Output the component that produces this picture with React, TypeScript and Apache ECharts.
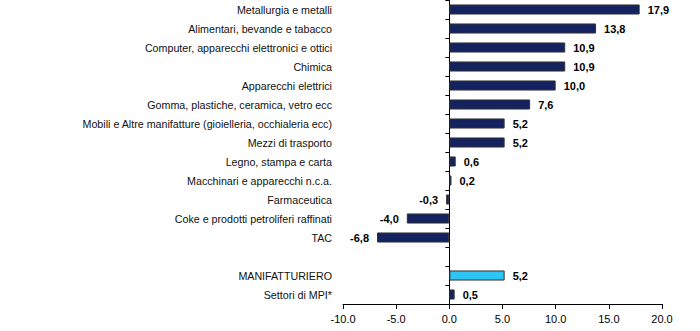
import React, { useEffect, useRef } from "react";
import * as echarts from "echarts";

const categories = [
  "Metallurgia e metalli",
  "Alimentari, bevande e tabacco",
  "Computer, apparecchi elettronici e ottici",
  "Chimica",
  "Apparecchi elettrici",
  "Gomma, plastiche, ceramica, vetro ecc",
  "Mobili e Altre manifatture (gioielleria, occhialeria ecc)",
  "Mezzi di trasporto",
  "Legno, stampa e carta",
  "Macchinari e apparecchi n.c.a.",
  "Farmaceutica",
  "Coke e prodotti petroliferi raffinati",
  "TAC",
  "",
  "MANIFATTURIERO",
  "Settori di MPI*",
];
const values: (number | null)[] = [17.9, 13.8, 10.9, 10.9, 10.0, 7.6, 5.2, 5.2, 0.6, 0.2, -0.3, -4.0, -6.8, null, 5.2, 0.5];
const highlight = "MANIFATTURIERO";
const xTicks = { min: -10, max: 20, interval: 5 };

const NAVY = "#14235f";
const CYAN = "#2ec4f5";
const FONT = "'Liberation Sans Narrow', 'Arial Narrow', 'Liberation Sans', Arial, sans-serif";

export default function App() {
  const ref = useRef<HTMLDivElement>(null);
  useEffect(() => {
    const chart = echarts.init(ref.current!, undefined, { renderer: "svg" });
    const data = values.map((v, i) =>
      v === null
        ? { value: null }
        : {
            value: v,
            itemStyle: { color: categories[i] === highlight ? CYAN : NAVY },
            label: { position: v < 0 ? "left" : "right" },
          }
    );
    chart.setOption({
      animation: false,
      grid: { left: 343, right: 38, top: -3, bottom: 27, containLabel: false },
      xAxis: {
        type: "value",
        min: xTicks.min,
        max: xTicks.max,
        interval: xTicks.interval,
        splitLine: { show: false },
        axisLine: { show: true, lineStyle: { color: "#000", width: 1 } },
        axisTick: { show: true, length: 5, lineStyle: { color: "#000" } },
        axisLabel: {
          color: "#000",
          fontFamily: FONT,
          fontSize: 11,
          margin: 9,
          formatter: (v: number) => v.toFixed(1),
        },
      },
      yAxis: [
        {
          type: "category",
          data: categories,
          inverse: true,
          axisLine: { show: true, onZero: true, lineStyle: { color: "#000", width: 1 } },
          axisTick: { show: true, length: 4, inside: false, lineStyle: { color: "#000" } },
          axisLabel: { show: false },
        },
        {
          type: "category",
          data: categories,
          inverse: true,
          position: "left",
          axisLine: { show: false, onZero: false },
          axisTick: { show: false },
          axisLabel: {
            color: "#111",
            fontFamily: FONT,
            fontSize: 10.7,
            margin: 11,
          },
        },
      ],
      series: [
        {
          type: "bar",
          yAxisIndex: 0,
          data,
          barCategoryGap: "47%",
          itemStyle: { borderColor: "#333", borderWidth: 1 },
          label: {
            show: true,
            distance: 8,
            color: "#000",
            fontFamily: FONT,
            fontWeight: "bold",
            fontSize: 11,
            formatter: (p: any) => (p.value == null ? "" : Number(p.value).toFixed(1).replace(".", ",")),
          },
        },
      ],
    });
    return () => chart.dispose();
  }, []);
  return (
    <div
      ref={ref}
      style={{ position: "absolute", left: 0, top: 0, width: 700, height: 331 }}
    />
  );
}
